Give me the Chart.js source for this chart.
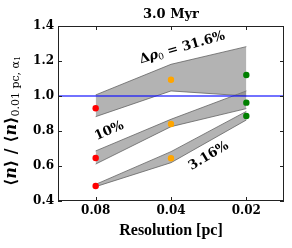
<!DOCTYPE html>
<html>
<head>
<meta charset="utf-8">
<script src="https://cdn.jsdelivr.net/npm/chart.js@4"></script>
<style>
  body { margin: 0; background: #fff; }
  #wrap { width: 292px; height: 248px; }
</style>
</head>
<body>
<div id="wrap"><canvas id="resChart" width="292" height="248"></canvas></div>
<script>
// resolution categories (x positions 0,1,2)
const resLabels = ['0.08', '0.04', '0.02'];
const resIdx = [0, 1, 2];
const resColors = ['#ff0000', '#ffa500', '#008000'];

// normalised mean density for each perturbation amplitude
const ratio316 = [0.93, 1.093, 1.12];
const ratio10 = [0.646, 0.84, 0.962];
const ratio3 = [0.486, 0.644, 0.886];

// shaded ranges
const band316Lo = [0.882, 1.029, 1.0];
const band316Hi = [1.006, 1.181, 1.282];
const band10Lo = [0.611, 0.825, 0.928];
const band10Hi = [0.686, 0.867, 1.029];
const band3Lo = [0.482, 0.619, 0.863];
const band3Hi = [0.495, 0.682, 0.912];

const refLevel = 1.0;
const yTicks = [0.4, 0.6, 0.8, 1.0, 1.2, 1.4];

// annotation labels, placed in data coords
const notes = [
    { parts: [['Δ', 'b'], ['ρ', 'bi'], ['0', 'sub'], [' = 31.6%', 'b']], x: 1.15, y: 1.276, rot: -16 },
    { parts: [['10%', 'b']], x: 0.18, y: 0.8, rot: -24 },
    { parts: [['3.16%', 'b']], x: 1.5, y: 0.657, rot: -31 }
];

const serif = '"DejaVu Serif", "DejaVu Sans", serif';
const gray = 'rgba(128,128,128,0.6)';
const edge = 'rgba(100,100,100,0.8)';

function pts(arr) {
    return arr.map((v, i) => ({ x: resIdx[i], y: v }));
}

function drawRich(ctx, parts, size) {
    const fonts = {
        b: 'bold ' + size + 'px ' + serif,
        bi: 'italic bold ' + size + 'px ' + serif,
        sub: Math.round(size * 0.68) + 'px ' + serif,
        sub2: Math.round(size * 0.5) + 'px ' + serif
    };
    const shift = { b: 0, bi: 0, sub: size * 0.25, sub2: size * 0.4 };
    let total = 0;
    parts.forEach(p => { ctx.font = fonts[p[1]]; total += ctx.measureText(p[0]).width; });
    let x = -total / 2;
    ctx.textBaseline = 'middle';
    ctx.textAlign = 'left';
    parts.forEach(p => {
        ctx.font = fonts[p[1]];
        ctx.fillText(p[0], x, shift[p[1]]);
        x += ctx.measureText(p[0]).width;
    });
}

const decor = {
    id: 'decor',
    afterDraw(chart) {
        const ctx = chart.ctx;
        const a = chart.chartArea;
        const xs = chart.scales.x, ys = chart.scales.y;
        ctx.save();
        ctx.strokeStyle = '#222';
        ctx.lineWidth = 1;
        ctx.strokeRect(a.left + 0.5, a.top + 0.5, a.right - a.left - 1, a.bottom - a.top - 1);
        ctx.beginPath();
        ys.ticks.forEach(t => {
            const py = Math.round(ys.getPixelForValue(t.value)) + 0.5;
            ctx.moveTo(a.left, py); ctx.lineTo(a.left + 4, py);
            ctx.moveTo(a.right, py); ctx.lineTo(a.right - 4, py);
        });
        xs.ticks.forEach(t => {
            const px = Math.round(xs.getPixelForValue(t.value)) + 0.5;
            ctx.moveTo(px, a.bottom); ctx.lineTo(px, a.bottom - 4);
            ctx.moveTo(px, a.top); ctx.lineTo(px, a.top + 4);
        });
        ctx.stroke();

        ctx.fillStyle = '#000';
        // title
        ctx.save();
        ctx.translate((a.left + a.right) / 2, 15);
        drawRich(ctx, [['3.0 Myr', 'b']], 13);
        ctx.restore();
        // x title
        ctx.save();
        ctx.translate((a.left + a.right) / 2, 231);
        ctx.font = 'bold 16px "Liberation Serif", serif';
        ctx.textAlign = 'center';
        ctx.textBaseline = 'middle';
        ctx.fillText('Resolution [pc]', 0, 0);
        ctx.restore();
        // y title
        ctx.save();
        ctx.translate(12, 121);
        ctx.rotate(-Math.PI / 2);
        drawRich(ctx, [['⟨', 'b'], ['n', 'bi'], ['⟩ / ⟨', 'b'], ['n', 'bi'], ['⟩', 'b'],
            ['0.01 pc, α', 'sub'], ['1', 'sub2']], 16);
        ctx.restore();
        // annotations
        notes.forEach(n => {
            ctx.save();
            ctx.translate(xs.getPixelForValue(n.x), ys.getPixelForValue(n.y));
            ctx.rotate(n.rot * Math.PI / 180);
            drawRich(ctx, n.parts, 13);
            ctx.restore();
        });
        ctx.restore();
    }
};

function band(lo, hi) {
    return [
        { data: pts(lo), borderColor: edge, borderWidth: 1, pointRadius: 0, fill: false, order: 3 },
        { data: pts(hi), borderColor: edge, borderWidth: 1, pointRadius: 0, fill: '-1', backgroundColor: gray, order: 3 }
    ];
}

function dots(vals) {
    return { data: pts(vals), showLine: false, pointRadius: 3.2, pointBorderWidth: 0,
        pointBackgroundColor: resColors, pointBorderColor: resColors, order: 0 };
}

new Chart(document.getElementById('resChart'), {
    type: 'line',
    data: {
        datasets: [
            ...band(band316Lo, band316Hi),
            ...band(band10Lo, band10Hi),
            ...band(band3Lo, band3Hi),
            { data: [{ x: -0.5, y: refLevel }, { x: 2.5, y: refLevel }], borderColor: 'rgba(20,20,255,0.8)',
              borderWidth: 1.5, pointRadius: 0, fill: false, order: 1 },
            dots(ratio316),
            dots(ratio10),
            dots(ratio3)
        ]
    },
    options: {
        responsive: false,
        animation: false,
        layout: { padding: { left: 0, right: 8, top: 26, bottom: 0 } },
        plugins: { legend: { display: false }, tooltip: { enabled: false } },
        scales: {
            x: {
                type: 'linear', min: -0.5, max: 2.5,
                afterBuildTicks: s => { s.ticks = resIdx.map(v => ({ value: v })); },
                afterFit: s => { s.height = 47; },
                grid: { display: false, drawTicks: false },
                border: { display: false },
                ticks: { callback: v => resLabels[v], color: '#000', padding: 3,
                    font: { family: serif, weight: 'bold', size: 12 } }
            },
            y: {
                min: 0.4, max: 1.4,
                afterBuildTicks: s => { s.ticks = yTicks.map(v => ({ value: v })); },
                afterFit: s => { s.width = 58; },
                grid: { display: false, drawTicks: false },
                border: { display: false },
                ticks: { callback: v => v.toFixed(1), color: '#000', padding: 4,
                    font: { family: serif, weight: 'bold', size: 12 } }
            }
        }
    },
    plugins: [decor]
});
</script>
</body>
</html>
